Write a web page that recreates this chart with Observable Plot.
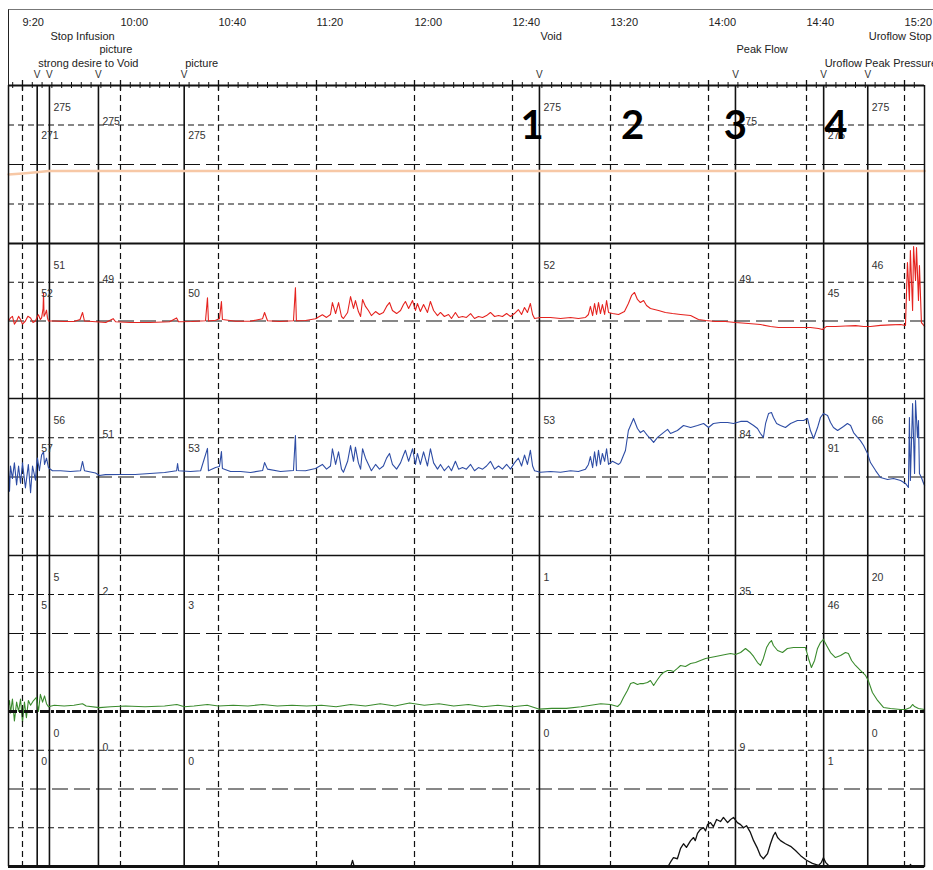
<!DOCTYPE html>
<html><head><meta charset="utf-8">
<script src="https://cdn.jsdelivr.net/npm/d3@7"></script>
<script src="https://cdn.jsdelivr.net/npm/@observablehq/plot@0.6"></script>
<style>
body{margin:0;background:#fff;}
#chart{position:relative;width:933px;height:870px;overflow:hidden;background:#fff;font-family:"Liberation Sans",Arial,sans-serif;}
#chart svg{position:absolute;left:0;}
#hdrframe{position:absolute;left:8px;top:9px;width:940px;height:76px;border-top:1px solid #777;border-left:1.5px solid #222;}
</style></head><body><div id="chart"><div id="hdrframe"></div></div>
<script>
// ---------- data ----------
const startClock = "9:20";
const tickLabels = ["9:20","10:00","10:40","11:20","12:00","12:40","13:20","14:00","14:40","15:20"];
const eventTimes = ["9:26","9:31","9:51","10:26","12:51","14:11","14:47","15:05"];
const eventNames = ["strong desire to Void","Stop Infusion","picture","picture","Void","Peak Flow","Uroflow Peak Pressure","Uroflow Stop"];
const volAtEvent  = [271,275,275,275,275,275,275,275];
const pabdAtEvent = [52,51,49,50,52,49,45,46];
const pvesAtEvent = [57,56,51,53,53,84,91,66];
const pdetAtEvent = [5,5,2,3,1,35,46,20];
const flowAtEvent = [0,0,0,0,0,9,1,0];
const phaseLabels = ["1","2","3","4"];
const phaseTimes  = ["12:48","13:29","14:11","14:52"];

// traces: [minutes after 9:20, value]
const volTrace = [[-5.7,262],[0,266],[5.7,271],[10.6,275],[368.2,275]];

const pabdTrace = [[-5.7,50],[-4.9,52],[-4.1,53],[-3.3,48],[-2.4,50],[-1.6,53],[-0.8,51],[0,48],[1.2,50],[2.2,53],[3.3,52],[4.3,49],[5.3,50],[6.1,53],[6.5,54],[7.3,51],[7.8,52],[8.4,58],[8.6,68],[8.8,53],[9.4,55],[9.8,57],[10.2,52],[10.6,50],
[13,50],[17,49.7],[21,49.7],[23.5,51],[24.5,55.5],[25.3,50],[30,49.5],[34,49],[37,51.5],[38,49.5],[44,49],[52,49],[60,49.5],[62.9,52],[63.7,49.5],[69,49.7],[74.7,50.2],[75.5,65],[75.9,50],[78.8,50.5],[80.4,51.5],[81.2,62.5],[81.6,51],[87,49.8],[93,49.8],[98,51.5],[98.8,55.5],[100,50.2],[105,49.7],[110.6,50.2],[111.4,71.5],[111.8,50.2],[115.5,50.3],[119.6,51.5],[122.4,54],
[124.1,52.3],[125.7,54.2],[126.5,61.9],[127.8,54.8],[129,61.9],[130.2,52.9],[131,51.6],[132.7,55.5],[133.9,65.8],[135.1,58.1],[135.9,63.2],[137.1,56.1],[138,52.9],[138.8,63.9],[140,59.4],[141.2,56.8],[142.4,53.5],[144.1,56.1],[145.7,54.2],[147.3,55.5],[148.6,59.4],[149.8,61.9],[151,56.8],[152.7,54.8],[154.3,56.8],[155.5,60.6],[156.3,62.6],[157.6,58.1],[159.2,63.2],[160.4,56.8],[161.2,61.3],[162.4,56.1],[163.7,60.6],[165.3,55.5],[166.5,62.6],[167.8,56.8],[169.4,53.5],[170.6,55.5],[172.2,52.9],[173.9,54.2],[175.1,51.6],[176.7,55.5],[178,52.3],[179.6,52.9],[181.2,52.3],[182.9,54.8],[184.5,51.6],[186.1,52.9],[187.8,52.3],[189.4,53.5],[191,55.5],[192.7,52.9],[194.3,53.5],[195.9,52.9],[197.6,54.8],[199.2,52.9],[200.8,54.8],[202.4,57.4],[203.7,54.2],[204.9,58.7],[206.1,55.5],[207.3,61.3],[208.2,54.2],[209,51.6],
[211.4,52.3],[215.5,52.3],[219.6,51.6],[223.7,52.3],[226.9,51.6],[229.8,52.3],[231,54.2],[231.8,59.4],[232.7,53.5],[233.5,61.3],[234.3,54.2],[235.1,61.9],[235.9,54.8],[236.7,60.6],[237.6,54.2],[238.4,63.2],[239.2,55.5],[240.8,54.8],[243.3,54.2],[245.7,56.1],[247.3,61.3],[248.6,66.5],[249.8,68.4],[251,63.9],[252.2,61.9],[253.5,63.2],[254.7,60],[256.3,58.1],[259.6,56.8],[262.4,55.5],[265.3,54.8],[268.6,54.2],[272.7,53.5],[275.9,51],[278.8,50.3],[282.9,49.7],[286.9,49.7],[291,49],[296.3,48.4],[301.2,47.7],[305.3,46.5],[308.6,45.8],[313.5,45.8],[317.6,45.8],[321.6,45.8],[324.9,45.2],[326.5,44.5],[328.2,46.5],[331.8,46.5],[335.9,46.8],[340,47],[343.3,46.5],[346.1,46.5],[350.2,47.2],[354.3,47.5],[358.4,47.7],[360.4,47.1],[361.2,87.7],[362,63.2],[362.4,95.5],[363.3,56.8],[363.7,98.1],[364.5,76.1],[364.9,97.4],[365.7,63.2],[366.1,85.8],[366.9,49],[368.2,46.5]];

const pvesTrace = [[-5.7,54],[-5.3,41],[-4.9,57],[-4.1,49],[-3.3,59],[-2.4,45],[-1.6,57],[-0.8,46],[0,59],[1.2,43],[2.4,58],[3.3,40],[4.1,57],[5.3,48],[5.7,57],[6.1,62],[6.9,54],[7.8,64],[8.6,66],[9,58],[9.8,62],[10.6,56],
[12.2,54],[15.5,54],[19.6,53.5],[23.7,54],[24.5,59.9],[25.3,54],[29.8,52.5],[31.4,51],[33.9,51.5],[40,51.6],[46,51.6],[52,52.2],[58,52.9],[62.9,54],[63.3,58.6],[63.7,54],[68.6,53.5],[72.7,54],[75.5,68.2],[75.9,54],[78.8,56],[80.4,56.7],[81.2,66.2],[81.6,55.4],[84.9,53.5],[89,53.5],[93.1,52.9],[98,54.1],[98.8,59.2],[100,55],[105.3,53.5],[110.6,54.1],[111.4,76.4],[111.8,54.1],[115.5,54],[119.6,55.4],[122.4,58],
[124.1,55],[125.7,57],[126.5,68],[127.8,58],[129,66],[130.2,55],[131,53],[132.7,60],[133.9,70],[135.1,60],[135.9,69],[137.1,59],[138,55],[138.8,68],[140,62],[141.2,58],[142.4,54],[144.1,58],[145.7,55],[147.3,57],[148.6,62],[149.8,65],[151,58],[152.7,55],[154.3,59],[155.5,64],[156.3,67],[157.6,60],[159.2,68],[160.4,58],[161.2,65],[162.4,58],[163.7,66],[165.3,57],[166.5,68],[167.8,59],[169.4,55],[170.6,58],[172.2,54],[173.9,57],[175.1,54],[176.7,60],[178,55],[179.6,56],[181.2,55],[182.9,58],[184.5,54],[186.1,56],[187.8,55],[189.4,57],[191,60],[192.7,55],[194.3,57],[195.9,55],[197.6,58],[199.2,55],[200.8,59],[202.4,62],[203.7,57],[204.9,64],[206.1,58],[207.3,67],[208.2,57],[209,54],
[211.4,53],[215.5,53.5],[219.6,53],[223.7,54],[226.9,53.5],[229.8,55],[231,58],[231.8,63],[232.7,56],[233.5,66],[234.3,57],[235.1,67],[235.9,58],[236.7,65],[237.6,60],[238.4,68],[239.2,58],[240.8,60],[243.3,58],[244.1,59.2],[246.1,66.9],[247.3,79.6],[249.4,87.3],[251,80.9],[252.2,78.3],[253.5,79.6],[255.1,76.4],[256.3,74.5],[257.6,72],[259.2,75.2],[261.6,78.3],[263.3,80.3],[264.5,77.7],[267.3,79.6],[269.8,82.8],[272.7,81.5],[275.5,82.8],[278,84.1],[280,81.5],[282,84.1],[284.9,84.7],[287.8,84.7],[290.2,84.1],[293.1,85.4],[295.9,85.4],[298.4,82.8],[300,80.9],[301.2,77.7],[302.4,75.2],[303.3,84.1],[304.5,90.4],[305.7,91.1],[306.5,87.9],[307.8,84.1],[309.4,82.8],[311.4,81.5],[313.5,84.1],[316.3,86],[318.8,86],[320.4,87.3],[321.6,79.6],[322.9,74.5],[324.5,81.5],[325.7,87.9],[326.9,90.4],[328.6,89.2],[329.8,84.7],[331,81.5],[332.7,79.6],[333.9,80.9],[335.1,82.2],[336.7,84.1],[338,82.8],[339.2,78.3],[340.8,75.2],[342,73.2],[343.3,70.1],[344.9,65],[346.1,59.2],[348.2,54.1],[350.2,49.7],[353.1,48.4],[355.5,49],[358.4,47.8],[360.4,45.9],[361.6,43.3],[362,87.9],[362.4,47.8],[363.3,96.8],[364.1,52.2],[364.5,98.7],[365.3,75.2],[365.7,86],[366.1,52.2],[366.9,49.7],[367.8,45.9],[368.2,44.6]];

const pdetTrace = [[-5.7,4],[-5.3,7],[-4.9,-1],[-4.1,8],[-3.3,-6],[-2.4,6],[-1.6,0],[-0.8,8],[0,-7],[0.8,6],[1.6,-4],[2.4,7],[3.3,4],[4.5,7],[5.7,9],[6.5,0],[7.3,11],[8.2,6],[9,10],[9.8,5],[10.6,3],
[13,4],[17,3.5],[21,4],[24.5,5],[26,3.5],[31.4,2.5],[36,3],[42,3.5],[50,3],[58,3.5],[63,4.5],[66.1,3],[70,3.5],[75.5,4.5],[80,3.5],[86,4],[92,3.5],[98,4.5],[104,3.5],[110,4],[116,3.5],[122,4],[128,3],[134,4.5],[140,3.5],[146,5],[152,3.5],[158,5.5],[164,4],[170,5],[176,3.5],[182,4.5],[188,3],[194,4],[200,3],[206,4],[211,1.5],[216,2],[222,2],[228,3],[232,4],[236,5],[240,4.5],[242.9,3.2],
[244.1,5.1],[245.3,9],[246.9,13.5],[248.2,17.9],[249.4,18.6],[251,17.3],[252.2,17.9],[253.5,17.9],[255.1,18.6],[256.3,19.9],[257.6,16.7],[259.2,20.5],[260.4,23.1],[261.6,25],[263.3,26.3],[264.5,26.3],[265.7,25.6],[267.3,27.6],[268.6,29.5],[270.6,28.8],[272.7,30.8],[274.7,31.4],[276.7,32.7],[278.8,34],[280.8,34.6],[282.9,35.3],[284.9,35.9],[286.9,36.5],[289,37.2],[291,36.5],[293.1,37.8],[295.1,40.4],[297.1,37.8],[298.4,35.3],[300,31.4],[301.2,29.5],[302.4,34],[303.7,41],[304.9,44.2],[305.7,45.5],[306.5,42.3],[308.2,39.1],[310.2,37.8],[312.2,40.4],[314.7,41],[317.6,41],[319.6,41],[320.8,34],[322,28.2],[323.3,32.7],[324.5,40.4],[325.7,44.2],[326.9,46.2],[328.2,42.3],[329.8,37.8],[331.8,34.6],[333.9,35.9],[335.9,37.8],[337.1,37.2],[338.4,32.7],[340,29.5],[342,26.3],[344.1,23.1],[345.3,19.5],[346.9,12.2],[349,7.1],[351.4,2.6],[354.3,1.9],[358.4,1.3],[360.4,1.3],[362.4,2.6],[363.3,4.5],[364.1,3.2],[365.7,1.9],[368.2,1.3]];

const flowTrace = [[-5.7,0],[134,0],[134.7,1.2],[135.4,0],[263,0],[263.7,0.2],[264.8,1.1],[265.7,1.7],[267.3,1.5],[268.6,3.5],[269.8,4.4],[271,3.7],[272.7,5],[273.9,5.6],[274.6,5],[275.5,6.4],[276.7,7.2],[278,7.5],[278.8,6.9],[279.6,8.1],[280.8,8.5],[282,7.7],[283.3,9.1],[284.9,8.7],[286.1,9.5],[287.8,8.5],[289,9.1],[290.2,9.5],[291.8,8.5],[293.1,8.1],[294.3,7.5],[295.5,7.9],[297.1,6.6],[298.4,5],[300,3.5],[301.2,2.1],[302.4,1.5],[304.1,2.5],[305.3,4.4],[306.5,6],[307.3,6.6],[308.2,5.6],[309.4,5],[311.4,4.4],[313.5,3.9],[315.5,3.1],[317.6,2.1],[320,1.2],[322.4,0.6],[324.9,0.2],[326.1,0.8],[326.9,1.7],[327.8,0.8],[329,0.2],[331.8,0],[362,0],[362.4,0.4],[363,0],[368.2,0]];

// ---------- layout helpers ----------
const toMin = s => { const [h,m] = s.split(":").map(Number); const [h0,m0] = startClock.split(":").map(Number); return (h*60+m) - (h0*60+m0); };
const tickMins = tickLabels.map(toMin);
const minorTicks = d3.range(-4, 368, 4);
const events = eventTimes.map((s,i) => ({t: toMin(s), name: eventNames[i], row: (i+2)%3,
  vol: volAtEvent[i], pabd: pabdAtEvent[i], pves: pvesAtEvent[i], pdet: pdetAtEvent[i], flow: flowAtEvent[i]}));
const phases = phaseLabels.map((l,i) => ({t: toMin(phaseTimes[i]), label: l}));
const xDomain = [-5.71, 368.16];
const FONT = "Liberation Sans, Arial, sans-serif";
const INK = "#111";
const chart = document.getElementById("chart");

function place(svg, top){ svg.style.position="absolute"; svg.style.top = top+"px"; svg.style.left="0px"; chart.appendChild(svg); }

// ---------- header ----------
const rowDyHeader = [-43, -29.5, -16];
const header = Plot.plot({
  width: 933, height: 88, marginTop: 82, marginBottom: 0, marginLeft: 8, marginRight: 9,
  x: {domain: xDomain, axis: null}, y: {domain: [-1, 1], axis: null},
  style: {background: "transparent", overflow: "visible", fontFamily: FONT},
  marks: [
    Plot.tickX(minorTicks, {x: d => d, stroke: INK, strokeWidth: 1}),
    Plot.ruleX(tickMins, {x: d => d, stroke: INK, strokeWidth: 1.3, insetTop: -2, insetBottom: -2}),
    Plot.ruleY([0], {y: d => d, stroke: INK, strokeWidth: 2.2}),
    Plot.text(tickMins, {x: d => d, text: (d, i) => tickLabels[i], frameAnchor: "top", dy: -57, dx: 0, lineAnchor: "bottom", textAnchor: "start", fontSize: 11, fill: "#222"}),
    ...[0,1,2].map(r => Plot.text(events.filter(e => e.row === r), {x: "t", text: "name", frameAnchor: "top", dy: rowDyHeader[r], dx: 1, lineAnchor: "bottom", textAnchor: "start", fontSize: 11, fill: "#222"})),
    Plot.text(events, {x: "t", text: () => "V", frameAnchor: "top", dy: -5, lineAnchor: "bottom", textAnchor: "middle", fontSize: 10, fill: "#333"})
  ]
});
place(header, 0);

// ---------- panels ----------
const rowDy = [25, 39, 53];
function panel({top, h, yMax, trace, color, sw, key, topLine, bottomLine, extra = []}) {
  const marks = [
    Plot.ruleX(tickMins, {x: d => d, stroke: INK, strokeWidth: 1.2, strokeDasharray: "6,4"}),
    Plot.ruleY([yMax*0.25, yMax*0.75], {y: d => d, stroke: INK, strokeWidth: 1.2, strokeDasharray: "6,4"}),
    Plot.ruleY([yMax*0.5], {y: d => d, stroke: INK, strokeWidth: 1.2, strokeDasharray: "16,6"}),
    Plot.ruleX(events, {x: "t", stroke: INK, strokeWidth: 1.6}),
    Plot.line(trace, {x: d => d[0], y: d => d[1], stroke: color, strokeWidth: sw, strokeLinejoin: "round"}),
    ...[0,1,2].map(r => Plot.text(events.filter(e => e.row === r), {x: "t", text: d => String(d[key]), frameAnchor: "top", dy: rowDy[r], dx: 4, lineAnchor: "bottom", textAnchor: "start", fontSize: 10.5, fill: "#333"})),
    Plot.ruleX(xDomain, {x: d => d, stroke: INK, strokeWidth: 1.5}),
  ];
  if (topLine) marks.push(Plot.ruleY([yMax], {y: d => d, stroke: INK, strokeWidth: topLine}));
  if (bottomLine) marks.push(Plot.ruleY([0], {y: d => d, stroke: INK, ...bottomLine}));
  marks.push(...extra);
  const svg = Plot.plot({
    width: 933, height: h, marginTop: 0, marginBottom: 0, marginLeft: 8, marginRight: 9,
    x: {domain: xDomain, axis: null}, y: {domain: [0, yMax], axis: null},
    style: {background: "transparent", overflow: "visible", fontFamily: FONT},
    marks
  });
  place(svg, top);
}

panel({top: 85, h: 158, yMax: 600, trace: volTrace, color: "#f7c8a6", sw: 2.5, key: "vol",
  extra: [Plot.text(phases, {x: "t", text: "label", frameAnchor: "top", dy: 53, lineAnchor: "bottom", textAnchor: "middle", fontSize: 40, fontWeight: 700, fontFamily: "Lato", fill: "#000"})]});
panel({top: 243, h: 155, yMax: 100, trace: pabdTrace, color: "#e5231f", sw: 1.1, key: "pabd", topLine: 2});
panel({top: 398, h: 157, yMax: 100, trace: pvesTrace, color: "#2e4da5", sw: 1.1, key: "pves", topLine: 1.5});
panel({top: 555, h: 156, yMax: 100, trace: pdetTrace, color: "#3a8b2d", sw: 1.1, key: "pdet", topLine: 1.5,
  bottomLine: {strokeWidth: 3, strokeDasharray: "9,2,3,2"}});
panel({top: 711, h: 155, yMax: 30, trace: flowTrace, color: "#111", sw: 1.3, key: "flow",
  bottomLine: {strokeWidth: 3}});
</script></body></html>
